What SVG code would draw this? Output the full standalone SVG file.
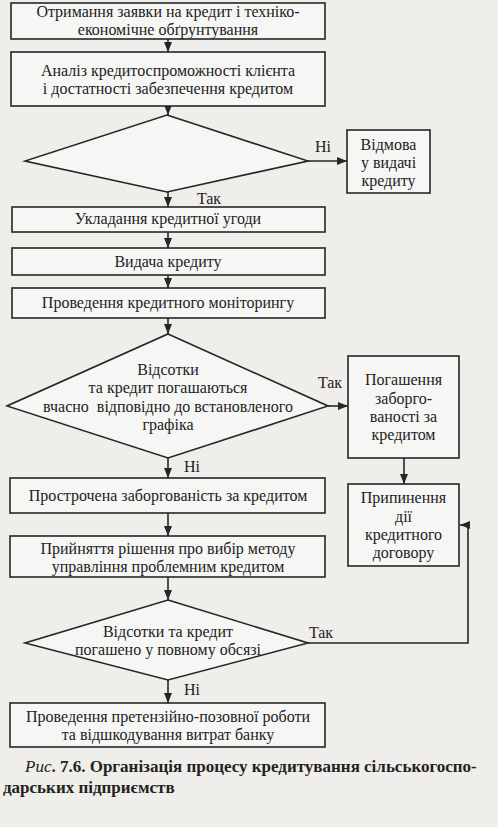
<svg xmlns="http://www.w3.org/2000/svg" width="498" height="827" viewBox="0 0 498 827">
<style>
.bg{fill:#efeeeb}
.box{fill:#f6f6f4;stroke:#262626;stroke-width:1.6}
.line{fill:none;stroke:#262626;stroke-width:1.6}
text{font-family:"Liberation Serif","DejaVu Serif",serif;font-size:16px;fill:#222;text-anchor:middle}
.lbl{text-anchor:middle}
.cap{font-weight:bold;font-size:17px;text-anchor:start}
</style>
<defs>
<marker id="ah" markerUnits="userSpaceOnUse" markerWidth="10" markerHeight="10" viewBox="0 0 10 10" refX="10" refY="5" orient="auto">
<path d="M0,1 L10,5 L0,9 Z" fill="#262626"/>
</marker>
</defs>
<rect class="bg" x="0" y="0" width="498" height="827"/>

<g id="connectors">
<line class="line" x1="168" y1="39" x2="168" y2="52" marker-end="url(#ah)"/>
<line class="line" x1="168" y1="106" x2="168" y2="115" marker-end="url(#ah)"/>
<line class="line" x1="308" y1="161" x2="347" y2="161" marker-end="url(#ah)"/>
<line class="line" x1="168" y1="192" x2="168" y2="207" marker-end="url(#ah)"/>
<line class="line" x1="168" y1="232" x2="168" y2="248" marker-end="url(#ah)"/>
<line class="line" x1="168" y1="275" x2="168" y2="288" marker-end="url(#ah)"/>
<line class="line" x1="168" y1="318" x2="168" y2="334" marker-end="url(#ah)"/>
<line class="line" x1="328" y1="406" x2="348" y2="406" marker-end="url(#ah)"/>
<line class="line" x1="404" y1="458" x2="404" y2="484" marker-end="url(#ah)"/>
<line class="line" x1="168" y1="458" x2="168" y2="478" marker-end="url(#ah)"/>
<line class="line" x1="168" y1="513" x2="168" y2="536" marker-end="url(#ah)"/>
<line class="line" x1="168" y1="577" x2="168" y2="600" marker-end="url(#ah)"/>
<polyline class="line" points="308,643 468,643 468,525 460,525" marker-end="url(#ah)"/>
<line class="line" x1="168" y1="680" x2="168" y2="703" marker-end="url(#ah)"/>
<text class="lbl" x="323" y="152">Ні</text>
<text class="lbl" x="209" y="204">Так</text>
<text class="lbl" x="330" y="388">Так</text>
<text class="lbl" x="192" y="472">Ні</text>
<text class="lbl" x="321" y="638">Так</text>
<text class="lbl" x="192" y="695">Ні</text>
</g>

<g id="n1">
<rect class="box" x="11" y="3" width="314" height="36"/>
<text x="168" y="17">Отримання заявки на кредит і техніко-</text>
<text x="168" y="35">економічне обґрунтування</text>
</g>
<g id="n2">
<rect class="box" x="11" y="52" width="314" height="54"/>
<text x="168" y="76">Аналіз кредитоспроможності клієнта</text>
<text x="168" y="94">і достатності забезпечення кредитом</text>
</g>
<g id="d1">
<polygon class="box" points="167,115 308,161 167,192 25,161"/>
</g>
<g id="n_refuse">
<rect class="box" x="347" y="130" width="83" height="63"/>
<text x="388.5" y="150">Відмова</text>
<text x="388.5" y="168">у видачі</text>
<text x="388.5" y="186">кредиту</text>
</g>
<g id="n3">
<rect class="box" x="12" y="207" width="313" height="25"/>
<text x="168" y="224">Укладання кредитної угоди</text>
</g>
<g id="n4">
<rect class="box" x="12" y="248" width="313" height="27"/>
<text x="168" y="267">Видача кредиту</text>
</g>
<g id="n5">
<rect class="box" x="12" y="288" width="313" height="30"/>
<text x="168" y="308">Проведення кредитного моніторингу</text>
</g>
<g id="d2">
<polygon class="box" points="168,334 328,406 168,458 7,406"/>
<text x="168" y="375">Відсотки</text>
<text x="168" y="393">та кредит погашаються</text>
<text x="168" y="412" xml:space="preserve">вчасно  відповідно до встановленого</text>
<text x="168" y="430">графіка</text>
</g>
<g id="n_repay">
<rect class="box" x="348" y="356" width="111" height="102"/>
<text x="403.5" y="385">Погашення</text>
<text x="403.5" y="404">заборго-</text>
<text x="403.5" y="422">ваності за</text>
<text x="403.5" y="440">кредитом</text>
</g>
<g id="n_stop">
<rect class="box" x="348" y="484" width="111" height="82"/>
<text x="403.5" y="503">Припинення</text>
<text x="403.5" y="522">дії</text>
<text x="403.5" y="540">кредитного</text>
<text x="403.5" y="558">договору</text>
</g>
<g id="n6">
<rect class="box" x="10" y="478" width="315" height="35"/>
<text x="168" y="501">Прострочена заборгованість за кредитом</text>
</g>
<g id="n7">
<rect class="box" x="10" y="536" width="315" height="41"/>
<text x="168" y="554">Прийняття рішення про вибір методу</text>
<text x="168" y="572">управління проблемним кредитом</text>
</g>
<g id="d3">
<polygon class="box" points="168,600 308,643 168,680 25,643"/>
<text x="168" y="637">Відсотки та кредит</text>
<text x="168" y="655">погашено у повному обсязі</text>
</g>
<g id="n8">
<rect class="box" x="10" y="703" width="315" height="44"/>
<text x="168" y="722">Проведення претензійно-позовної роботи</text>
<text x="168" y="740">та відшкодування витрат банку</text>
</g>
<g id="caption">
<text class="cap" x="25" y="772"><tspan font-style="italic" font-weight="normal">Рис</tspan>. 7.6. Організація процесу кредитування сільськогоспо-</text>
<text class="cap" x="3" y="793">дарських підприємств</text>
</g>
</svg>
